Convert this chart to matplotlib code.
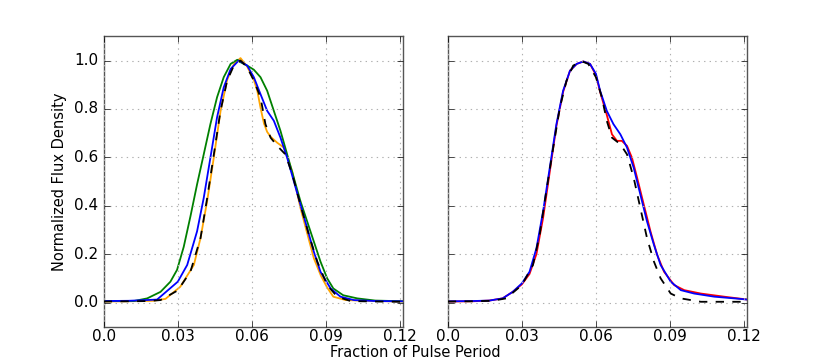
import matplotlib
matplotlib.use("Agg")
import matplotlib.pyplot as plt

# ---------------- data ----------------
# Left panel
xl_tmpl = [0.0, 0.010, 0.018, 0.023, 0.030, 0.0351, 0.0392, 0.0419, 0.0446, 0.0473, 0.050, 0.0527,
           0.0554, 0.0581, 0.0608, 0.0635, 0.0655, 0.0676, 0.0703, 0.0736, 0.0764, 0.0797, 0.0831,
           0.0865, 0.0905, 0.0946, 0.100, 0.110, 0.1215]
yl_tmpl = [0.004, 0.005, 0.006, 0.010, 0.050, 0.127, 0.266, 0.432, 0.612, 0.792, 0.917, 0.979,
           1.000, 0.972, 0.917, 0.848, 0.737, 0.681, 0.647, 0.612, 0.529, 0.404, 0.280,
           0.169, 0.072, 0.024, 0.006, 0.004, 0.003]

xl_orange = [0.0, 0.010, 0.020, 0.025, 0.031, 0.0365, 0.0392, 0.0419, 0.0446, 0.0473, 0.050, 0.0527,
             0.0554, 0.0581, 0.0608, 0.0622, 0.0636, 0.0649, 0.0662, 0.0676, 0.0703, 0.073, 0.0764,
             0.0797, 0.0851, 0.0880, 0.0905, 0.093, 0.098, 0.110, 0.1215]
yl_orange = [0.004, 0.005, 0.007, 0.015, 0.065, 0.155, 0.266, 0.420, 0.600, 0.790, 0.920, 0.985,
             1.010, 0.975, 0.920, 0.875, 0.800, 0.740, 0.705, 0.685, 0.660, 0.640, 0.540,
             0.390, 0.183, 0.110, 0.062, 0.024, 0.010, 0.006, 0.004]

xl_blue = [0.0, 0.010, 0.0216, 0.030, 0.0338, 0.0378, 0.0405, 0.0432, 0.0459, 0.0486, 0.0514, 0.0547,
           0.0581, 0.0608, 0.0635, 0.0662, 0.0689, 0.0716, 0.0743, 0.077, 0.0797, 0.0824, 0.0851,
           0.0878, 0.0919, 0.0959, 0.1013, 0.110, 0.1215]
yl_blue = [0.006, 0.007, 0.012, 0.086, 0.155, 0.294, 0.432, 0.598, 0.765, 0.889, 0.965, 1.000,
           0.979, 0.931, 0.861, 0.792, 0.751, 0.681, 0.598, 0.501, 0.404, 0.307, 0.210,
           0.127, 0.058, 0.024, 0.010, 0.006, 0.005]

xl_green = [0.0, 0.0122, 0.0176, 0.023, 0.027, 0.0297, 0.0324, 0.0351, 0.0378, 0.0405, 0.0432, 0.0459,
            0.0486, 0.0514, 0.0541, 0.0554, 0.0581, 0.0608, 0.0635, 0.0662, 0.0689, 0.0716, 0.0743,
            0.077, 0.0797, 0.0824, 0.0851, 0.0878, 0.0905, 0.093, 0.097, 0.1027, 0.110, 0.1215]
yl_green = [0.006, 0.006, 0.017, 0.044, 0.086, 0.135, 0.230, 0.355, 0.488, 0.612, 0.737, 0.848,
            0.931, 0.986, 1.003, 0.993, 0.979, 0.962, 0.931, 0.875, 0.792, 0.709, 0.612,
            0.515, 0.418, 0.335, 0.252, 0.169, 0.100, 0.058, 0.030, 0.017, 0.008, 0.005]

# Right panel
xr_tmpl = [0.0, 0.010, 0.018, 0.0236, 0.030, 0.0345, 0.0372, 0.0399, 0.0427, 0.0454, 0.0481, 0.0508,
           0.0542, 0.0569, 0.060, 0.0624, 0.0644, 0.0665, 0.0699, 0.0726, 0.0753, 0.078, 0.0807,
           0.0835, 0.0862, 0.0903, 0.0944, 0.1025, 0.110, 0.1215]
yr_tmpl = [0.004, 0.005, 0.007, 0.017, 0.072, 0.155, 0.280, 0.460, 0.640, 0.806, 0.917, 0.979,
           0.997, 0.986, 0.931, 0.848, 0.751, 0.681, 0.654, 0.612, 0.515, 0.390, 0.266,
           0.169, 0.100, 0.037, 0.017, 0.003, 0.003, 0.003]

xr_blue = [0.0, 0.010, 0.0168, 0.0222, 0.0263, 0.030, 0.0331, 0.0359, 0.0386, 0.0413, 0.044, 0.0467,
           0.0495, 0.0522, 0.0549, 0.0576, 0.060, 0.0617, 0.0644, 0.0671, 0.0699, 0.0726, 0.0753,
           0.078, 0.0807, 0.0835, 0.0862, 0.0903, 0.0944, 0.0998, 0.108, 0.1161, 0.1215]
yr_blue = [0.005, 0.006, 0.008, 0.017, 0.044, 0.079, 0.127, 0.224, 0.377, 0.557, 0.737, 0.875,
           0.958, 0.986, 0.996, 0.986, 0.945, 0.875, 0.792, 0.737, 0.695, 0.640, 0.557,
           0.446, 0.335, 0.238, 0.155, 0.086, 0.051, 0.037, 0.024, 0.017, 0.012]

xr_red = [0.0, 0.010, 0.0168, 0.0222, 0.0263, 0.030, 0.0331, 0.0359, 0.0386, 0.0413, 0.044, 0.0467,
          0.0495, 0.0522, 0.0549, 0.0576, 0.060, 0.0617, 0.0644, 0.0665, 0.0685, 0.0705, 0.0726,
          0.0746, 0.0767, 0.0794, 0.0821, 0.0848, 0.0876, 0.0917, 0.0958, 0.1025, 0.112, 0.1215]
yr_red = [0.004, 0.005, 0.008, 0.017, 0.044, 0.075, 0.118, 0.200, 0.350, 0.540, 0.730, 0.870,
          0.958, 0.986, 0.996, 0.986, 0.940, 0.870, 0.775, 0.695, 0.668, 0.668, 0.647,
          0.598, 0.515, 0.404, 0.294, 0.197, 0.127, 0.072, 0.051, 0.037, 0.024, 0.012]

xticks = [0.0, 0.03, 0.06, 0.09, 0.12]
xticklabels = ["0.0", "0.03", "0.06", "0.09", "0.12"]
yticks = [0.0, 0.2, 0.4, 0.6, 0.8, 1.0]
yticklabels = ["0.0", "0.2", "0.4", "0.6", "0.8", "1.0"]

# ---------------- plotting ----------------
plt.style.use("classic")
plt.rcParams["font.family"] = ["DejaVu Sans"]

fig, (ax1, ax2) = plt.subplots(1, 2, sharey=True, figsize=(8.3, 3.63), dpi=100)
fig.patch.set_facecolor("white")
fig.subplots_adjust(left=0.125, right=0.9, bottom=0.1, top=0.9, wspace=0.15)

lw = 1.3
ax1.plot(xl_tmpl, yl_tmpl, color="black", ls="--", lw=lw, zorder=3)
ax1.plot(xl_orange, yl_orange, color="orange", lw=lw, zorder=2)
ax1.plot(xl_green, yl_green, color="green", lw=lw, zorder=2)
ax1.plot(xl_blue, yl_blue, color="blue", lw=lw, zorder=2)

ax2.plot(xr_tmpl, yr_tmpl, color="black", ls="--", lw=lw, zorder=3)
ax2.plot(xr_red, yr_red, color="red", lw=lw, zorder=2)
ax2.plot(xr_blue, yr_blue, color="blue", lw=lw, zorder=2)

for ax in (ax1, ax2):
    ax.set_xlim(0.0, 0.1212)
    ax.set_ylim(-0.1, 1.1)
    ax.set_xticks(xticks)
    ax.set_xticklabels(xticklabels)
    ax.set_yticks(yticks)
    ax.grid(True, color="#b0b0b0", ls=":", lw=0.8)
    ax.tick_params(labelsize=11)
    ax.tick_params(axis="x", pad=2)
    for s in ax.spines.values():
        s.set_color("#555555")

ax1.set_yticklabels(yticklabels)
ax1.set_ylabel("Normalized Flux Density", fontsize=10.5)
plt.setp(ax2.get_yticklabels(), visible=False)

fig.text(0.5, 0.028, "Fraction of Pulse Period", ha="center", va="center", fontsize=10.5)

fig.savefig("out.png", dpi=100, facecolor="white")
